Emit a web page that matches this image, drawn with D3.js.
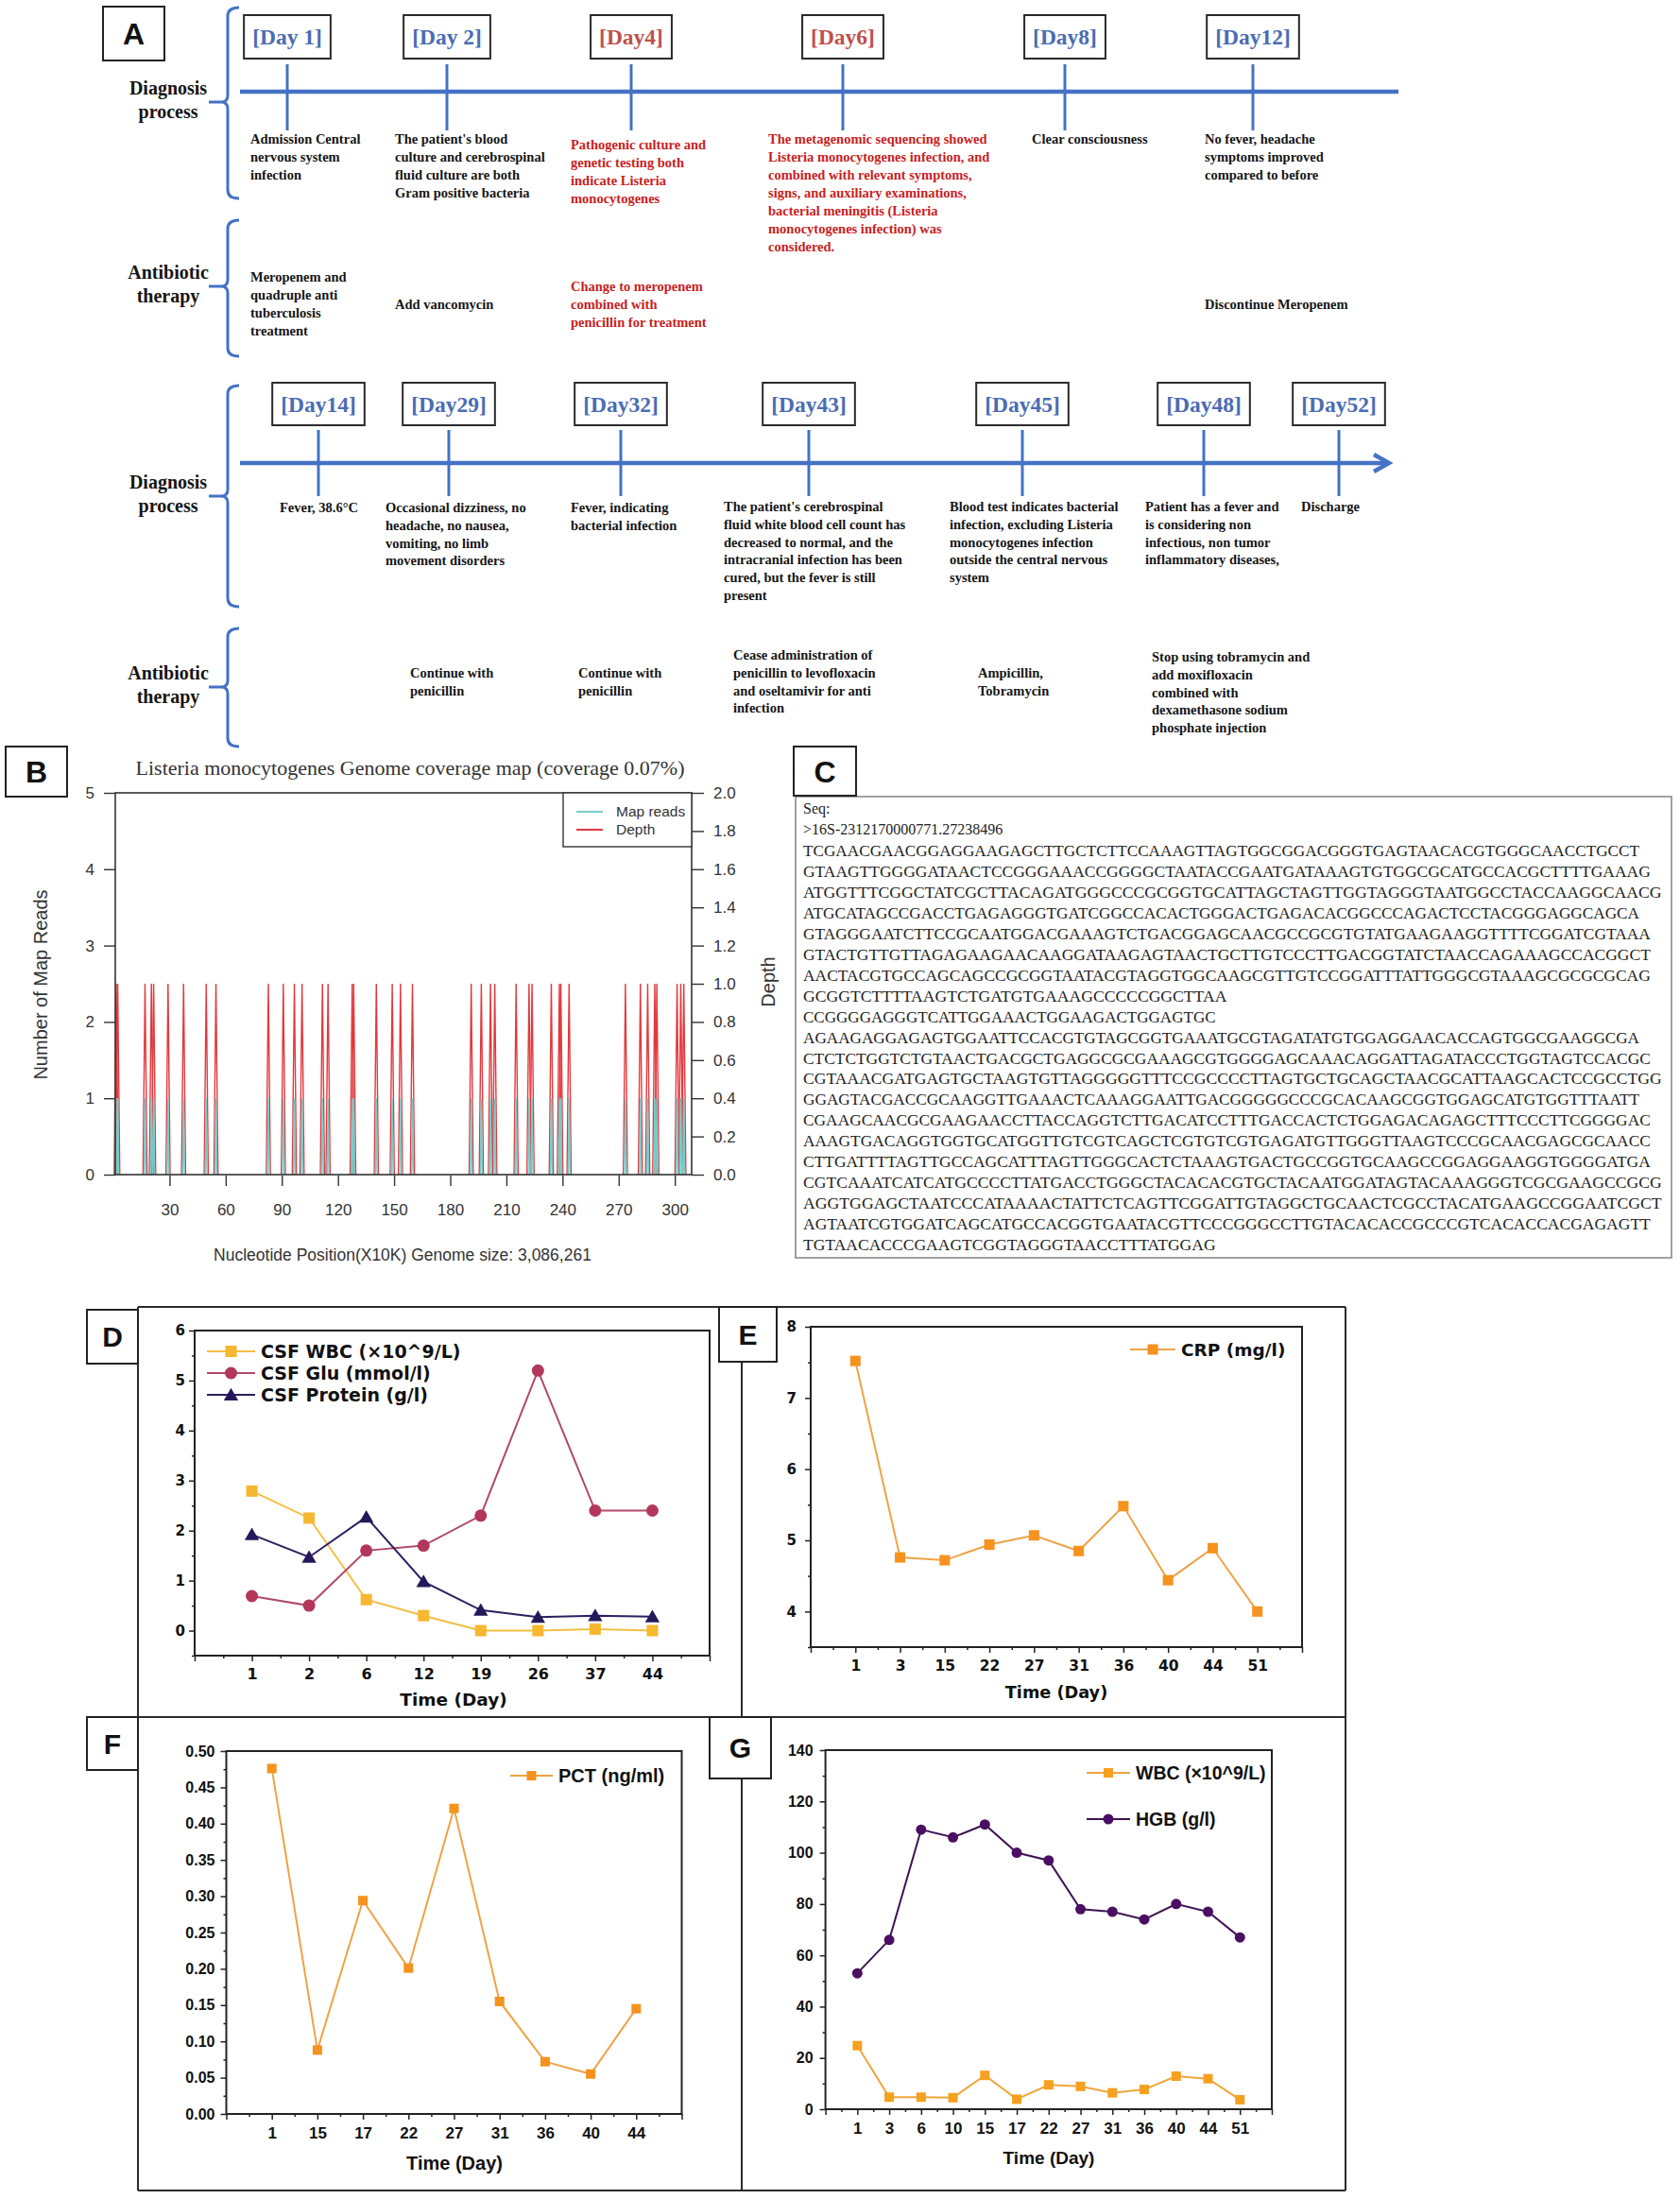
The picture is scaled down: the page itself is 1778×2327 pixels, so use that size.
<!DOCTYPE html>
<html><head><meta charset="utf-8">
<script src="https://cdn.jsdelivr.net/npm/d3@7"></script>
<style>body{margin:0;background:#fff}svg{display:block}</style>
</head><body>
<svg id="fig" width="1778" height="2327"></svg>
<script>
// ================= DATA =================
// ---- Panel A: clinical timeline ----
const topDayLabels = ["[Day 1]","[Day 2]","[Day4]","[Day6]","[Day8]","[Day12]"];
const topDayHighlight = [false,false,true,true,false,false];
const topDiagnosisText = [
  ["Admission Central","nervous system","infection"],
  ["The patient's blood","culture and cerebrospinal","fluid culture are both","Gram positive bacteria"],
  ["Pathogenic culture and","genetic testing both","indicate Listeria","monocytogenes"],
  ["The metagenomic sequencing showed","Listeria monocytogenes infection, and","combined with relevant symptoms,","signs, and auxiliary examinations,","bacterial meningitis (Listeria","monocytogenes infection) was","considered."],
  ["Clear consciousness"],
  ["No fever, headache","symptoms improved","compared to before"]
];
const topTherapyText = [
  ["Meropenem and","quadruple anti","tuberculosis","treatment"],
  ["Add vancomycin"],
  ["Change to meropenem","combined with","penicillin for treatment"],
  [],[],
  ["Discontinue Meropenem"]
];
const bottomDayLabels = ["[Day14]","[Day29]","[Day32]","[Day43]","[Day45]","[Day48]","[Day52]"];
const bottomDayHighlight = [false,false,false,false,false,false,false];
const bottomDiagnosisText = [
  ["Fever, 38.6°C"],
  ["Occasional dizziness, no","headache, no nausea,","vomiting, no limb","movement disorders"],
  ["Fever, indicating","bacterial infection"],
  ["The patient's cerebrospinal","fluid white blood cell count has","decreased to normal, and the","intracranial infection has been","cured, but the fever is still","present"],
  ["Blood test indicates bacterial","infection, excluding Listeria","monocytogenes infection","outside the central nervous","system"],
  ["Patient has a fever and","is considering non","infectious, non tumor","inflammatory diseases,"],
  ["Discharge"]
];
const bottomTherapyText = [
  [],
  ["Continue with","penicillin"],
  ["Continue with","penicillin"],
  ["Cease administration of","penicillin to levofloxacin","and oseltamivir for anti","infection"],
  ["Ampicillin,","Tobramycin"],
  ["Stop using tobramycin and","add moxifloxacin","combined with","dexamethasone sodium","phosphate injection"],
  []
];
const groupLabelText = [["Diagnosis","process"],["Antibiotic","therapy"],["Diagnosis","process"],["Antibiotic","therapy"]];

// ---- Panel B: genome coverage ----
const coverageTitle = "Listeria monocytogenes Genome coverage map (coverage 0.07%)";
const coverageXTitle = "Nucleotide Position(X10K) Genome size: 3,086,261";
const coveragePositions = [1.5,2.3,16.9,20.3,21.5,29.2,37.5,49.6,54.8,82.8,90.8,96.7,100.8,111.7,114.7,127.6,128.4,140.5,149.0,153.4,159.8,191.2,196.6,201.5,203.8,215.2,222.1,223.7,234.0,238.3,239.1,243.5,273.6,281.6,285.5,289.3,290.4,301.2,303.2,304.8];
const depthValues = coveragePositions.map(() => 1.0);     // every covered bin has depth 1
const mapReadValues = coveragePositions.map(() => 1);     // and one mapped read
const leftTicksB = [0,1,2,3,4,5];
const rightTicksB = [0,0.2,0.4,0.6,0.8,1.0,1.2,1.4,1.6,1.8,2.0];
const xTicksB = [30,60,90,120,150,180,210,240,270,300];
const legendB = ["Map reads","Depth"];

// ---- Panel C: sequence ----
const seqHeader = ["Seq:", ">16S-2312170000771.27238496"];
const seqLines = [
"TCGAACGAACGGAGGAAGAGCTTGCTCTTCCAAAGTTAGTGGCGGACGGGTGAGTAACACGTGGGCAACCTGCCT",
"GTAAGTTGGGGATAACTCCGGGAAACCGGGGCTAATACCGAATGATAAAGTGTGGCGCATGCCACGCTTTTGAAAG",
"ATGGTTTCGGCTATCGCTTACAGATGGGCCCGCGGTGCATTAGCTAGTTGGTAGGGTAATGGCCTACCAAGGCAACG",
"ATGCATAGCCGACCTGAGAGGGTGATCGGCCACACTGGGACTGAGACACGGCCCAGACTCCTACGGGAGGCAGCA",
"GTAGGGAATCTTCCGCAATGGACGAAAGTCTGACGGAGCAACGCCGCGTGTATGAAGAAGGTTTTCGGATCGTAAA",
"GTACTGTTGTTAGAGAAGAACAAGGATAAGAGTAACTGCTTGTCCCTTGACGGTATCTAACCAGAAAGCCACGGCT",
"AACTACGTGCCAGCAGCCGCGGTAATACGTAGGTGGCAAGCGTTGTCCGGATTTATTGGGCGTAAAGCGCGCGCAG",
"GCGGTCTTTTAAGTCTGATGTGAAAGCCCCCGGCTTAA",
"CCGGGGAGGGTCATTGGAAACTGGAAGACTGGAGTGC",
"AGAAGAGGAGAGTGGAATTCCACGTGTAGCGGTGAAATGCGTAGATATGTGGAGGAACACCAGTGGCGAAGGCGA",
"CTCTCTGGTCTGTAACTGACGCTGAGGCGCGAAAGCGTGGGGAGCAAACAGGATTAGATACCCTGGTAGTCCACGC",
"CGTAAACGATGAGTGCTAAGTGTTAGGGGGTTTCCGCCCCTTAGTGCTGCAGCTAACGCATTAAGCACTCCGCCTGG",
"GGAGTACGACCGCAAGGTTGAAACTCAAAGGAATTGACGGGGGCCCGCACAAGCGGTGGAGCATGTGGTTTAATT",
"CGAAGCAACGCGAAGAACCTTACCAGGTCTTGACATCCTTTGACCACTCTGGAGACAGAGCTTTCCCTTCGGGGAC",
"AAAGTGACAGGTGGTGCATGGTTGTCGTCAGCTCGTGTCGTGAGATGTTGGGTTAAGTCCCGCAACGAGCGCAACC",
"CTTGATTTTAGTTGCCAGCATTTAGTTGGGCACTCTAAAGTGACTGCCGGTGCAAGCCGGAGGAAGGTGGGGATGA",
"CGTCAAATCATCATGCCCCTTATGACCTGGGCTACACACGTGCTACAATGGATAGTACAAAGGGTCGCGAAGCCGCG",
"AGGTGGAGCTAATCCCATAAAACTATTCTCAGTTCGGATTGTAGGCTGCAACTCGCCTACATGAAGCCGGAATCGCT",
"AGTAATCGTGGATCAGCATGCCACGGTGAATACGTTCCCGGGCCTTGTACACACCGCCCGTCACACCACGAGAGTT",
"TGTAACACCCGAAGTCGGTAGGGTAACCTTTATGGAG"
];

// ---- Panel D ----
const dDays = ["1","2","6","12","19","26","37","44"];
const dCsfWbc = [2.79,2.25,0.62,0.30,0.00,0.00,0.03,0.00];
const dCsfGlu = [0.69,0.50,1.60,1.70,2.30,5.20,2.40,2.40];
const dCsfProtein = [1.92,1.47,2.27,0.98,0.41,0.27,0.30,0.28];
const dNames = ["CSF WBC (\u00d710^9/L)","CSF Glu (mmol/l)","CSF Protein (g/l)"];
// ---- Panel E ----
const eDays = ["1","3","15","22","27","31","36","40","44","51"];
const eCrp = [7.52,4.76,4.72,4.94,5.07,4.85,5.48,4.44,4.89,4.00];
const eNames = ["CRP (mg/l)"];
// ---- Panel F ----
const fDays = ["1","15","17","22","27","31","36","40","44"];
const fPct = [0.476,0.088,0.294,0.201,0.421,0.155,0.072,0.055,0.145];
const fNames = ["PCT (ng/ml)"];
// ---- Panel G ----
const gDays = ["1","3","6","10","15","17","22","27","31","36","40","44","51"];
const gWbc = [24.8,4.7,4.7,4.5,13.2,3.9,9.5,8.9,6.4,7.7,12.9,11.9,3.7];
const gHgb = [53,66,109,106,111,100,97,78,77,74,80,77,67];
const gNames = ["WBC (\u00d710^9/L)","HGB (g/l)"];
const timeTitle = "Time (Day)";

// ================= DRAWING =================
const svg = d3.select("#fig");
svg.append("rect").attr("width",1778).attr("height",2327).attr("fill","#fff");
const SERIF = "'Liberation Serif','Times New Roman',serif";
const SANS = "'Liberation Sans',Arial,sans-serif";
const DEJA = "'DejaVu Sans',sans-serif";
const BLUE = "#4472c4", DAYBLUE = "#4a6cb3", DAYRED = "#c0504d", TXTRED = "#c81e1e", INK = "#151515";

function labelBox(x,y,w,h,t,fs){
  svg.append("rect").attr("x",x).attr("y",y).attr("width",w).attr("height",h)
    .attr("fill","#fff").attr("stroke","#222").attr("stroke-width",2);
  svg.append("text").attr("x",x+w/2).attr("y",y+h/2).attr("dy","0.36em").attr("text-anchor","middle")
    .attr("font-family",SANS).attr("font-weight","bold").attr("font-size",fs).attr("fill","#111").text(t);
}

// ---------- Panel A ----------
function textBlock(x,y,lines,lh,color,size){
  if(!lines.length) return;
  const t = svg.append("text").attr("font-family",SERIF).attr("font-weight","bold")
    .attr("font-size",size).attr("fill",color);
  lines.forEach((s,i)=>t.append("tspan").attr("x",x).attr("y",y+i*lh).text(s));
}
function bracePath(x,top,bot,mid,tip){
  const h=12,r=9;
  return `M${x+h},${top} Q${x},${top} ${x},${top+r} L${x},${mid-7} Q${x},${mid} ${x-7},${mid} L${tip},${mid}`+
         ` M${x-7},${mid} Q${x},${mid} ${x},${mid+7} L${x},${bot-r} Q${x},${bot} ${x+h},${bot}`;
}
const groupLayout = [
  {top:8,bot:210,mid:108,y:100},{top:233,bot:377,mid:303,y:295},
  {top:408,bot:642,mid:525,y:517},{top:665,bot:790,mid:727,y:719}];
groupLayout.forEach((gl,i)=>{
  svg.append("path").attr("d",bracePath(241,gl.top,gl.bot,gl.mid,221))
    .attr("fill","none").attr("stroke",BLUE).attr("stroke-width",3);
  const t = svg.append("text").attr("font-family",SERIF).attr("font-weight","bold")
    .attr("font-size",20).attr("fill",INK).attr("text-anchor","middle");
  groupLabelText[i].forEach((s,k)=>t.append("tspan").attr("x",178).attr("y",gl.y+k*25).text(s));
});

function timeline(c){
  const xs = d3.scaleOrdinal(c.days, c.tickX);
  svg.append("line").attr("x1",c.x0).attr("x2",c.x1).attr("y1",c.lineY).attr("y2",c.lineY)
    .attr("stroke",BLUE).attr("stroke-width",4.5);
  if(c.arrow){
    svg.append("path").attr("d",`M${c.x1-14},${c.lineY-9} L${c.x1+2},${c.lineY} L${c.x1-14},${c.lineY+9}`)
      .attr("fill","none").attr("stroke",BLUE).attr("stroke-width",4.5).attr("stroke-linejoin","miter");
  }
  c.days.forEach((d,i)=>{
    const x = xs(d);
    svg.append("line").attr("x1",x).attr("x2",x).attr("y1",c.tickTop).attr("y2",c.tickBot)
      .attr("stroke",BLUE).attr("stroke-width",3);
    const bh = c.boxBot-c.boxTop;
    const r = svg.append("rect").attr("y",c.boxTop).attr("height",bh)
      .attr("fill","#fff").attr("stroke","#2a2a2a").attr("stroke-width",2);
    const t = svg.append("text").attr("x",x).attr("y",c.boxTop+bh/2+8).attr("text-anchor","middle")
      .attr("font-family",SERIF).attr("font-weight","bold").attr("font-size",23.5)
      .attr("fill",c.highlight[i]?DAYRED:DAYBLUE).text(d);
    const w = t.node().getComputedTextLength()+18;
    r.attr("x",x-w/2).attr("width",w);
    const col = c.highlight[i] ? TXTRED : INK;
    textBlock(c.diagX[i], c.diagY[i], c.diag[i], c.lh, col, 14.5);
    textBlock(c.therX[i], c.therY[i], c.ther[i], c.lh, col, 14.5);
  });
}
timeline({days:topDayLabels, highlight:topDayHighlight, diag:topDiagnosisText, ther:topTherapyText,
  lineY:97, x0:254, x1:1480, arrow:false, tickX:[304,473,668,892,1127,1326], tickTop:68, tickBot:138,
  boxTop:16, boxBot:62, lh:19,
  diagX:[265,418,604,813,1092,1275], diagY:[152,152,158,152,152,152],
  therX:[265,418,604,0,0,1275], therY:[298,327,308,0,0,327]});
timeline({days:bottomDayLabels, highlight:bottomDayHighlight, diag:bottomDiagnosisText, ther:bottomTherapyText,
  lineY:490, x0:254, x1:1468, arrow:true, tickX:[337,475,657,856,1082,1274,1417], tickTop:455, tickBot:525,
  boxTop:405, boxBot:450, lh:18.8,
  diagX:[296,408,604,766,1005,1212,1377], diagY:[542,542,542,541,541,541,541],
  therX:[0,434,612,776,1035,1219,0], therY:[0,717,717,698,717,700,0]});
labelBox(109,7,65,57,"A",32);

// ---------- Panel B ----------
(function(){
  const L=122,R=732,T=839,B=1243, HW=1.1;
  const x = d3.scaleLinear().domain([1,309]).range([L,R]);
  const yL = d3.scaleLinear().domain([0,5]).range([B,T]);
  const yR = d3.scaleLinear().domain([0,2]).range([B,T]);
  const g = svg.append("g");
  const lnL = d3.line().x(d=>x(d[0])).y(d=>yL(d[1]));
  const lnR = d3.line().x(d=>x(d[0])).y(d=>yR(d[1]));
  coveragePositions.forEach((p,i)=>{
    g.append("path").attr("d",lnR([[p-HW,0],[p,depthValues[i]],[p+HW,0]]))
      .attr("fill","none").attr("stroke","#e2393d").attr("stroke-width",1.4);
  });
  coveragePositions.forEach((p,i)=>{
    g.append("path").attr("d",lnL([[p-HW*0.45,0],[p,mapReadValues[i]],[p+HW*0.45,0]]))
      .attr("fill","none").attr("stroke","#74cdcb").attr("stroke-width",1.5);
  });
  g.append("rect").attr("x",L).attr("y",T).attr("width",R-L).attr("height",B-T)
    .attr("fill","none").attr("stroke","#333").attr("stroke-width",1.6);
  const style = s => { s.select(".domain").remove();
    s.selectAll(".tick line").attr("stroke","#333").attr("stroke-width",1.4);
    s.selectAll(".tick text").attr("font-family",SANS).attr("font-size",17).attr("fill","#333"); };
  g.append("g").attr("transform",`translate(${L},0)`)
    .call(d3.axisLeft(yL).tickValues(leftTicksB).tickSize(12).tickPadding(10).tickFormat(d3.format("d"))).call(style);
  g.append("g").attr("transform",`translate(${R},0)`)
    .call(d3.axisRight(yR).tickValues(rightTicksB).tickSize(13).tickPadding(10).tickFormat(d3.format(".1f"))).call(style);
  g.append("g").attr("transform",`translate(0,${B+1})`)
    .call(d3.axisBottom(x).tickValues(xTicksB).tickSize(11).tickPadding(19)).call(style);
  svg.append("text").attr("x",434).attr("y",820).attr("text-anchor","middle")
    .attr("font-family",SERIF).attr("font-size",22).attr("fill","#333").text(coverageTitle);
  svg.append("text").attr("transform","translate(50,1042) rotate(-90)").attr("text-anchor","middle")
    .attr("font-family",SANS).attr("font-size",20).attr("fill","#333").text("Number of Map Reads");
  svg.append("text").attr("transform","translate(820,1039) rotate(-90)").attr("text-anchor","middle")
    .attr("font-family",SANS).attr("font-size",20).attr("fill","#333").text(legendB[1]);
  svg.append("text").attr("x",426).attr("y",1334).attr("text-anchor","middle")
    .attr("font-family",SANS).attr("font-size",17.5).attr("fill","#333").text(coverageXTitle);
  // legend
  svg.append("rect").attr("x",596).attr("y",T).attr("width",R-596).attr("height",57)
    .attr("fill","#fff").attr("stroke","#333").attr("stroke-width",1.4);
  const lc = ["#74cdcb","#e2393d"];
  legendB.forEach((s,i)=>{
    const yy = 859+i*19;
    svg.append("line").attr("x1",610).attr("x2",638).attr("y1",yy).attr("y2",yy).attr("stroke",lc[i]).attr("stroke-width",2);
    svg.append("text").attr("x",652).attr("y",yy+5).attr("font-family",SANS).attr("font-size",15.5).attr("fill","#333").text(s);
  });
  labelBox(6,790,65,53,"B",32);
})();

// ---------- Panel C ----------
(function(){
  svg.append("rect").attr("x",842).attr("y",843).attr("width",927).attr("height",488)
    .attr("fill","#fff").attr("stroke","#8a8a8a").attr("stroke-width",1.6);
  seqHeader.forEach((s,i)=>{
    svg.append("text").attr("x",850).attr("y",861+i*22).attr("font-family",SERIF).attr("font-size",16)
      .attr("fill","#222").text(s);
  });
  seqLines.forEach((s,i)=>{
    svg.append("text").attr("x",850).attr("y",906+i*21.95).attr("font-family",SERIF).attr("font-size",17)
      .attr("fill","#222").attr("textLength",s.length*11.8).attr("lengthAdjust","spacingAndGlyphs").text(s);
  });
  labelBox(840,790,66,52,"C",32);
})();

// ---------- Panels D–G ----------
const gridColor = "#2b2b2b";
[[146,1383,1424,1383],[146,1817,1424,1817],[146,2318,1424,2318],
 [146,1383,146,2318],[1424,1383,1424,2318],[785,1383,785,2318]].forEach(l=>{
  svg.append("line").attr("x1",l[0]).attr("y1",l[1]).attr("x2",l[2]).attr("y2",l[3])
    .attr("stroke",gridColor).attr("stroke-width",2);
});

function marker(g,shape,x,y,size,color){
  if(shape==="square"){
    g.append("rect").attr("x",x-size/2).attr("y",y-size/2).attr("width",size).attr("height",size).attr("fill",color);
  } else if(shape==="circle"){
    g.append("circle").attr("cx",x).attr("cy",y).attr("r",size/2).attr("fill",color);
  } else {
    g.append("path").attr("transform",`translate(${x},${y+1.5})`)
      .attr("d",d3.symbol(d3.symbolTriangle,size*size*0.45)()).attr("fill",color);
  }
}

function lineChart(c){
  const g = svg.append("g");
  const x = d3.scalePoint().domain(c.cats).range([c.L,c.R]).padding(1);
  const xl = d3.scaleLinear().domain([0,c.cats.length+1]).range([c.L,c.R]);
  const y = d3.scaleLinear().domain(c.yDom).range([c.B,c.T]);
  const style = (s,fs) => { s.select(".domain").remove();
    s.selectAll(".tick line").attr("stroke","#222").attr("stroke-width",1.5);
    s.selectAll(".tick text").attr("font-family",c.font).attr("font-weight","bold").attr("font-size",fs).attr("fill","#111"); };
  g.append("g").attr("transform",`translate(0,${c.B})`)
    .call(d3.axisBottom(xl).tickValues(d3.range(0.5,c.cats.length+1,1)).tickSize(3).tickFormat("")).call(style,10);
  g.append("g").attr("transform",`translate(0,${c.B})`)
    .call(d3.axisBottom(xl).tickValues(d3.range(0,c.cats.length+2,1)).tickSize(6).tickPadding(8)
      .tickFormat(i=>c.cats[i-1]||"")).call(style,c.xfs);
  g.append("g").attr("transform",`translate(${c.L},0)`)
    .call(d3.axisLeft(y).tickValues(c.yMinor).tickSize(3).tickFormat("")).call(style,10);
  g.append("g").attr("transform",`translate(${c.L},0)`)
    .call(d3.axisLeft(y).tickValues(c.yMajor).tickSize(6).tickPadding(c.ypad).tickFormat(c.yFmt)).call(style,c.yfs);
  g.append("rect").attr("x",c.L).attr("y",c.T).attr("width",c.R-c.L).attr("height",c.B-c.T)
    .attr("fill","none").attr("stroke","#222").attr("stroke-width",2);
  c.series.forEach(s=>{
    const pts = c.cats.map((d,i)=>[d,s.values[i]]);
    g.append("path").attr("d",d3.line().x(d=>x(d[0])).y(d=>y(d[1]))(pts))
      .attr("fill","none").attr("stroke",s.line).attr("stroke-width",2);
    pts.forEach(p=>marker(g,s.shape,x(p[0]),y(p[1]),s.size,s.color));
  });
  c.series.forEach((s,i)=>{
    const ly = c.legY[i];
    g.append("line").attr("x1",c.legX[0]).attr("x2",c.legX[1]).attr("y1",ly).attr("y2",ly)
      .attr("stroke",s.line).attr("stroke-width",2);
    marker(g,s.shape,(c.legX[0]+c.legX[1])/2,ly,s.size,s.color);
    g.append("text").attr("x",c.legX[1]+6).attr("y",ly).attr("dy","0.36em")
      .attr("font-family",c.font).attr("font-weight","bold").attr("font-size",c.lfs).attr("fill","#111").text(s.name);
  });
  g.append("text").attr("x",c.titleX).attr("y",c.titleY).attr("text-anchor","middle")
    .attr("font-family",c.font).attr("font-weight","bold").attr("font-size",c.tfs).attr("fill","#111").text(timeTitle);
}

lineChart({L:206,R:751,T:1408,B:1752,cats:dDays,yDom:[-0.5,6],
  yMajor:[0,1,2,3,4,5,6], yMinor:[-0.5,0.5,1.5,2.5,3.5,4.5,5.5], yFmt:d3.format("d"),
  font:DEJA, xfs:16, yfs:15, lfs:19, tfs:18.5, ypad:4,
  series:[
    {name:dNames[0],values:dCsfWbc,shape:"square",size:12,color:"#f6b731",line:"#f2bf45"},
    {name:dNames[1],values:dCsfGlu,shape:"circle",size:13,color:"#b2375b",line:"#b04a69"},
    {name:dNames[2],values:dCsfProtein,shape:"triangle",size:15,color:"#25185a",line:"#2c2060"}],
  legX:[219,270], legY:[1430,1453,1476], titleX:480, titleY:1805});
lineChart({L:858,R:1378,T:1404,B:1743,cats:eDays,yDom:[3.5,8],
  yMajor:[4,5,6,7,8], yMinor:[3.5,4.5,5.5,6.5,7.5], yFmt:d3.format("d"),
  font:DEJA, xfs:15.5, yfs:15, lfs:18.5, tfs:17.7, ypad:9,
  series:[{name:eNames[0],values:eCrp,shape:"square",size:11,color:"#f6921e",line:"#eea347"}],
  legX:[1196,1244], legY:[1428], titleX:1118, titleY:1797});
lineChart({L:239.5,R:721.5,T:1853,B:2237,cats:fDays,yDom:[0,0.5],
  yMajor:d3.range(0,0.501,0.05), yMinor:d3.range(0.025,0.5,0.05), yFmt:d3.format(".2f"),
  font:SANS, xfs:17, yfs:16, lfs:20, tfs:20, ypad:6,
  series:[{name:fNames[0],values:fPct,shape:"square",size:10,color:"#f6921e",line:"#eea347"}],
  legX:[540,585], legY:[1879], titleX:481, titleY:2296});
lineChart({L:873.6,R:1346,T:1852,B:2232,cats:gDays,yDom:[0,140],
  yMajor:d3.range(0,141,20), yMinor:d3.range(10,140,20), yFmt:d3.format("d"),
  font:SANS, xfs:17, yfs:16, lfs:19.5, tfs:19, ypad:7,
  series:[
    {name:gNames[0],values:gWbc,shape:"square",size:10,color:"#f6a020",line:"#f0a53a"},
    {name:gNames[1],values:gHgb,shape:"circle",size:11,color:"#4a0f62",line:"#3e1354"}],
  legX:[1150,1196], legY:[1876,1925], titleX:1110, titleY:2290});

labelBox(92,1386,54,57,"D",30);
labelBox(761,1383,61,58,"E",30);
labelBox(92,1817,54,56,"F",30);
labelBox(751,1817,65,65,"G",30);
</script>
</body></html>
